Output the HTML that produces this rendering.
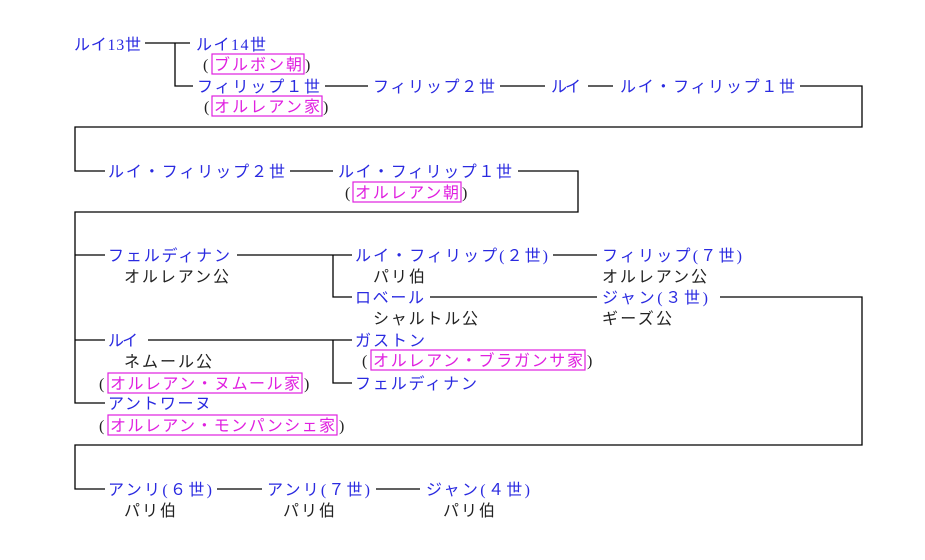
<!DOCTYPE html>
<html><head><meta charset="utf-8"><style>
html,body{margin:0;padding:0;background:#fff;}
svg{display:block}
text{font-family:"Liberation Serif","Noto Sans CJK JP",sans-serif;font-size:16px;}
.b{fill:#2a2ae0}.k{fill:#222}.m{fill:#e020e0}
</style></head><body>
<svg width="925" height="560" viewBox="0 0 925 560" xmlns="http://www.w3.org/2000/svg">
<g stroke="#000" stroke-width="1.3" fill="none">
<path d="M145 43H190M175 43V86H193"/>
<path d="M325 86H368M500 86H545M588 86H613M800 86H862V127H75V171H105"/>
<path d="M290 171H333M518 171H578V212H75V403H105M75 255H105M75 340H105"/>
<path d="M237 255H352M333 255V297H352M553 255H597M430 297H597M720 297H862V445H75V489H105"/>
<path d="M148 340H352M333 340V383H352"/>
<path d="M217 489H262M376 489H420"/>
</g>
<g fill="none" stroke="#e020e0" stroke-width="1.2">
<rect x="212" y="54" width="92" height="20"/>
<rect x="212" y="96" width="110" height="20"/>
<rect x="353" y="182" width="108" height="20"/>
<rect x="371" y="350" width="214" height="20"/>
<rect x="108" y="373" width="194" height="20"/>
<rect x="108" y="415" width="229" height="20"/>
</g>
<text class="b" x="74" y="50" textLength="67">ルイ13世</text>
<text class="b" x="196" y="50" textLength="70">ルイ14世</text>
<text class="k" x="203" y="70">(</text><text class="m" x="214" y="70" textLength="88">ブルボン朝</text><text class="k" x="305" y="70">)</text>
<text class="b" x="197" y="92" textLength="123">フィリップ１世</text>
<text class="k" x="204" y="112">(</text><text class="m" x="214" y="112" textLength="106">オルレアン家</text><text class="k" x="323" y="112">)</text>
<text class="b" x="373" y="92" textLength="122">フィリップ２世</text>
<text class="b" x="551" y="92" textLength="30">ルイ</text>
<text class="b" x="620" y="92" textLength="175">ルイ・フィリップ１世</text>
<text class="b" x="108" y="177" textLength="177">ルイ・フィリップ２世</text>
<text class="b" x="338" y="177" textLength="174">ルイ・フィリップ１世</text>
<text class="k" x="345" y="198">(</text><text class="m" x="355" y="198" textLength="104">オルレアン朝</text><text class="k" x="462" y="198">)</text>
<text class="b" x="108" y="261" textLength="122">フェルディナン</text>
<text class="k" x="124" y="282" textLength="105">オルレアン公</text>
<text class="b" x="355" y="261" textLength="193">ルイ・フィリップ(２世)</text>
<text class="k" x="373" y="282" textLength="52">パリ伯</text>
<text class="b" x="602" y="261" textLength="140">フィリップ(７世)</text>
<text class="k" x="602" y="282" textLength="105">オルレアン公</text>
<text class="b" x="355" y="303" textLength="69">ロベール</text>
<text class="k" x="373" y="324" textLength="105">シャルトル公</text>
<text class="b" x="602" y="303" textLength="106">ジャン(３世)</text>
<text class="k" x="602" y="324" textLength="70">ギーズ公</text>
<text class="b" x="108" y="346" textLength="30">ルイ</text>
<text class="k" x="124" y="367" textLength="88">ネムール公</text>
<text class="k" x="99" y="389">(</text><text class="m" x="110" y="389" textLength="190">オルレアン・ヌムール家</text><text class="k" x="304" y="389">)</text>
<text class="b" x="108" y="409" textLength="103">アントワーヌ</text>
<text class="k" x="99" y="431">(</text><text class="m" x="110" y="431" textLength="225">オルレアン・モンパンシェ家</text><text class="k" x="339" y="431">)</text>
<text class="b" x="355" y="346" textLength="70">ガストン</text>
<text class="k" x="362" y="366">(</text><text class="m" x="373" y="366" textLength="210">オルレアン・ブラガンサ家</text><text class="k" x="587" y="366">)</text>
<text class="b" x="355" y="389" textLength="122">フェルディナン</text>
<text class="b" x="108" y="495" textLength="104">アンリ(６世)</text>
<text class="b" x="267" y="495" textLength="103">アンリ(７世)</text>
<text class="b" x="426" y="495" textLength="104">ジャン(４世)</text>
<text class="k" x="124" y="516" textLength="52">パリ伯</text>
<text class="k" x="283" y="516" textLength="52">パリ伯</text>
<text class="k" x="443" y="516" textLength="52">パリ伯</text>
</svg>
</body></html>
